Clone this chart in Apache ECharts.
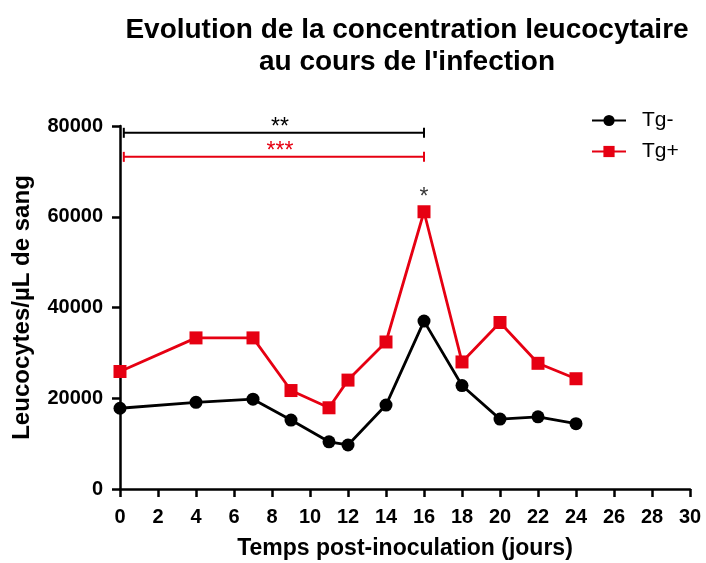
<!DOCTYPE html>
<html><head><meta charset="utf-8">
<script src="https://cdn.jsdelivr.net/npm/echarts@6/dist/echarts.min.js"></script>
<style>html,body{margin:0;padding:0;background:#fff}#c{width:706px;height:563px}</style>
</head><body><div id="c"></div>
<script>
const days = [0, 4, 7, 9, 11, 12, 14, 16, 18, 20, 22, 24];
const tgMinus = [17800, 19100, 19800, 15200, 10400, 9700, 18500, 37000, 22800, 15400, 15900, 14400];
const tgPlus = [25900, 33300, 33300, 21700, 17900, 24000, 32400, 61100, 28000, 36700, 27700, 24300];
const seriesNames = ['Tg-', 'Tg+'];
// significance brackets: [xStart, xEnd, y, label]
const bracketBlack = [0.2, 16, 78500, '**'];
const bracketRed = [0.2, 16, 73200, '***'];
const starPoint = [16, 64300, '*'];

const FONT = 'Liberation Sans, Arial, sans-serif';
const RED = '#e60012';
const chart = echarts.init(document.getElementById('c'), null, {renderer: 'canvas'});

function bracketSeries(b, color) {
  return {
    type: 'custom', silent: true, z: 5,
    data: [b],
    renderItem: function (params, api) {
      const p0 = api.coord([api.value(0), api.value(2)]);
      const p1 = api.coord([api.value(1), api.value(2)]);
      const h = 5;
      return {
        type: 'group', children: [
          {type: 'line', shape: {x1: p0[0], y1: p0[1], x2: p1[0], y2: p1[1]}, style: {stroke: color, lineWidth: 2}},
          {type: 'line', shape: {x1: p0[0], y1: p0[1] - h, x2: p0[0], y2: p0[1] + h}, style: {stroke: color, lineWidth: 2}},
          {type: 'line', shape: {x1: p1[0], y1: p1[1] - h, x2: p1[0], y2: p1[1] + h}, style: {stroke: color, lineWidth: 2}},
          {type: 'text', x: (p0[0] + p1[0]) / 2 + 6, y: p0[1] + 6, style: {text: b[3], fill: color, font: '23px ' + FONT, align: 'center', verticalAlign: 'bottom'}}
        ]
      };
    },
    encode: {x: [0, 1], y: 2}
  };
}

chart.setOption({
  animation: false,
  title: {
    text: 'Evolution de la concentration leucocytaire\nau cours de l\'infection',
    left: 402, top: 9, textAlign: 'center',
    textStyle: {fontFamily: FONT, fontWeight: 'bold', fontSize: 28, lineHeight: 32, color: '#000'}
  },
  legend: {
    data: ['Tg-', 'Tg+'],
    orient: 'vertical', left: 586, top: 105, itemGap: 10,
    itemWidth: 34, itemHeight: 14,
    textStyle: {fontFamily: FONT, fontSize: 21, color: '#000', padding: [0, 0, 0, 11]}
  },
  grid: {left: 120, right: 16, top: 126, bottom: 74, containLabel: false, outerBoundsMode: 'none'},
  xAxis: {
    type: 'value', min: 0, max: 30, interval: 2,
    name: 'Temps post-inoculation (jours)', nameLocation: 'middle', nameGap: 48,
    nameTextStyle: {fontFamily: FONT, fontWeight: 'bold', fontSize: 23, color: '#000'},
    axisLine: {show: true, onZero: false, lineStyle: {color: '#000', width: 2.5}},
    axisTick: {show: true, length: 8, lineStyle: {color: '#000', width: 2.5}},
    axisLabel: {fontFamily: FONT, fontWeight: 'bold', fontSize: 20, color: '#000', margin: 18},
    splitLine: {show: false}
  },
  yAxis: {
    type: 'value', min: 0, max: 80000, interval: 20000,
    name: 'Leucocytes/µL de sang', nameLocation: 'middle', nameGap: 86,
    nameTextStyle: {fontFamily: FONT, fontWeight: 'bold', fontSize: 24, color: '#000'},
    axisLine: {show: true, lineStyle: {color: '#000', width: 2.5}},
    axisTick: {show: true, length: 8, lineStyle: {color: '#000', width: 2.5}},
    axisLabel: {fontFamily: FONT, fontWeight: 'bold', fontSize: 20, color: '#000', margin: 17,
      formatter: v => String(v)},
    splitLine: {show: false}
  },
  series: [
    {
      name: seriesNames[0], type: 'line', data: days.map((d, i) => [d, tgMinus[i]]),
      symbol: 'circle', symbolSize: 13, z: 3,
      lineStyle: {color: '#000', width: 2.8}, itemStyle: {color: '#000'}
    },
    {
      name: seriesNames[1], type: 'line', data: days.map((d, i) => [d, tgPlus[i]]),
      symbol: 'rect', symbolSize: 13, z: 4,
      lineStyle: {color: RED, width: 2.8}, itemStyle: {color: RED}
    },
    bracketSeries(bracketBlack, '#000'),
    bracketSeries(bracketRed, RED),
    {
      type: 'scatter', silent: true, symbolSize: 0, data: [[starPoint[0], starPoint[1]]],
      label: {show: true, formatter: starPoint[2], position: 'inside', fontFamily: FONT, fontSize: 23, color: '#000'}
    }
  ]
});
</script></body></html>
